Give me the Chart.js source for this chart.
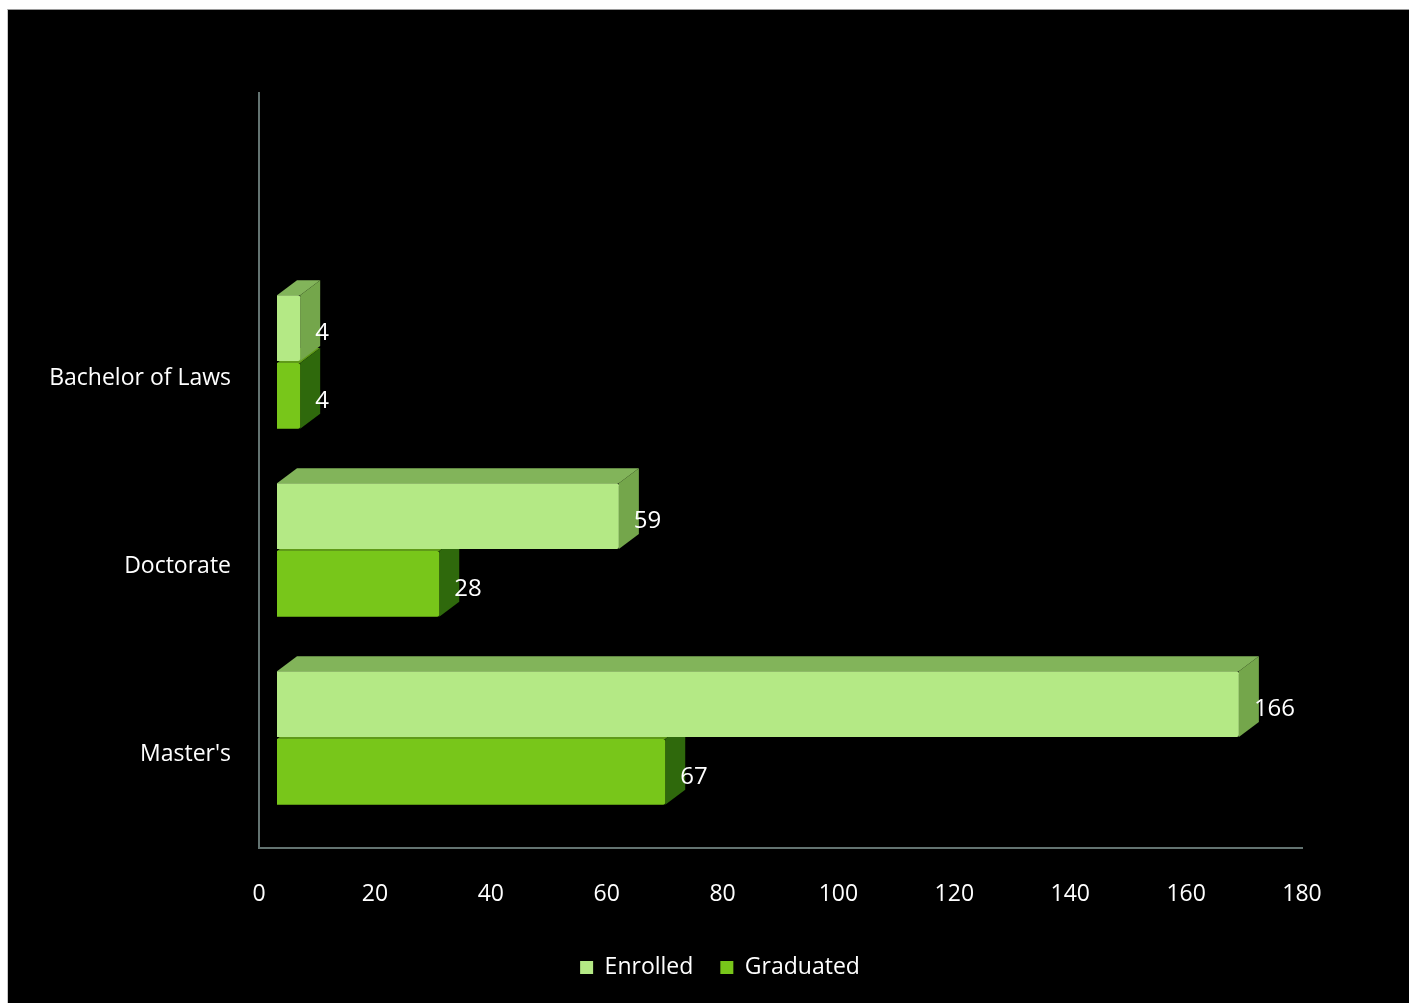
<!DOCTYPE html>
<html>
<head>
<meta charset="utf-8">
<script src="https://cdn.jsdelivr.net/npm/chart.js@4/dist/chart.umd.min.js"></script>
<style>
  html, body { margin: 0; padding: 0; background: #ffffff; width: 1409px; height: 1003px; overflow: hidden; }
  #frame { position: absolute; left: 7px; top: 9px; width: 1402px; height: 994px; background: #000; border-top: 1px solid #9a9a9a; border-left: 1px solid #c8c8c8; box-sizing: border-box; }
  #c { position: absolute; left: 0; top: 0; }
</style>
</head>
<body>
<div id="frame"></div>
<canvas id="c" width="1409" height="1003"></canvas>
<script>
const categories = ['Bachelor of Laws', 'Doctorate', "Master's"];
const enrolled = [4, 59, 166];
const graduated = [4, 28, 67];
const seriesNames = ['Enrolled', 'Graduated'];
const xMin = 0, xMax = 180, xStep = 20;

const FONT = "'Open Sans', sans-serif";
const FRONT = ['#b4e985', '#78c61a'];
const TOP = ['#82b45a', '#5f9a18'];
const SIDE = ['#74a64b', '#2f690c'];
const SHIFT_X = 18, SHIFT_Y = -16, DEPTH_X = 20, DEPTH_Y = -15;
const PAD_L = 20, PAD_R = 107, AXIS_LEFT = 259, LEGEND_CENTER = 720;

const threeD = {
  id: 'threeD',
  afterLayout(chart) {
    const lg = chart.legend;
    if (lg) {
      const d = LEGEND_CENTER - (lg.left + lg.right) / 2;
      lg.left += d; lg.right += d;
    }
  },
  beforeDatasetDraw(chart, args) {
    const ctx = chart.ctx;
    ctx.save();
    ctx.translate(SHIFT_X, SHIFT_Y);
    const i = args.index;
    args.meta.data.forEach(bar => {
      const p = bar.getProps(['x', 'y', 'base', 'height'], true);
      const t = p.y - p.height / 2, b = p.y + p.height / 2;
      ctx.fillStyle = TOP[i];
      ctx.beginPath();
      ctx.moveTo(p.base, t);
      ctx.lineTo(p.base + DEPTH_X, t + DEPTH_Y);
      ctx.lineTo(p.x + DEPTH_X, t + DEPTH_Y);
      ctx.lineTo(p.x, t);
      ctx.closePath();
      ctx.fill();
      ctx.fillStyle = SIDE[i];
      ctx.beginPath();
      ctx.moveTo(p.x, t);
      ctx.lineTo(p.x + DEPTH_X, t + DEPTH_Y);
      ctx.lineTo(p.x + DEPTH_X, b + DEPTH_Y);
      ctx.lineTo(p.x, b);
      ctx.closePath();
      ctx.fill();
    });
  },
  afterDatasetDraw(chart) {
    chart.ctx.restore();
  },
  beforeDraw(chart) {
    const ctx = chart.ctx, a = chart.chartArea;
    ctx.save();
    ctx.strokeStyle = '#637371';
    ctx.lineWidth = 2;
    ctx.beginPath();
    ctx.moveTo(a.left, 92);
    ctx.lineTo(a.left, a.bottom);
    ctx.lineTo(a.right + 1, a.bottom);
    ctx.stroke();
    ctx.restore();
  },
  afterDatasetsDraw(chart) {
    const ctx = chart.ctx;
    ctx.save();
    ctx.fillStyle = '#ffffff';
    ctx.font = '24px ' + FONT;
    ctx.textAlign = 'left';
    ctx.textBaseline = 'middle';
    chart.data.datasets.forEach((ds, i) => {
      chart.getDatasetMeta(i).data.forEach((bar, j) => {
        ctx.fillText(String(ds.data[j]), bar.x + SHIFT_X + 15, bar.y + SHIFT_Y + 5);
      });
    });
    ctx.restore();
  }
};

new Chart(document.getElementById('c'), {
  type: 'bar',
  data: {
    labels: categories,
    datasets: [
      { label: seriesNames[0], data: enrolled, backgroundColor: FRONT[0], borderRadius: 2, clip: false,
        barPercentage: 0.97, categoryPercentage: 0.72 },
      { label: seriesNames[1], data: graduated, backgroundColor: FRONT[1], borderRadius: 2, clip: false,
        barPercentage: 0.97, categoryPercentage: 0.72 }
    ]
  },
  options: {
    indexAxis: 'y',
    responsive: false,
    animation: false,
    layout: { padding: { left: PAD_L, right: PAD_R, top: 284, bottom: 14 } },
    plugins: {
      tooltip: { enabled: false },
      legend: {
        position: 'bottom',
        labels: { color: '#ffffff', font: { family: FONT, size: 23 }, boxWidth: 13, boxHeight: 13, padding: 27 }
      }
    },
    scales: {
      x: {
        min: xMin, max: xMax,
        ticks: { stepSize: xStep, color: '#ffffff', font: { family: FONT, size: 23 }, padding: 33 },
        grid: { display: false, drawTicks: false },
        border: { display: false },
        afterFit(s) { s.height = 81; }
      },
      y: {
        ticks: { color: '#ffffff', font: { family: FONT, size: 23 }, padding: 28 },
        grid: { display: false, drawTicks: false },
        border: { display: false },
        afterFit(s) { s.width = AXIS_LEFT - PAD_L; }
      }
    }
  },
  plugins: [threeD]
});
</script>
</body>
</html>
